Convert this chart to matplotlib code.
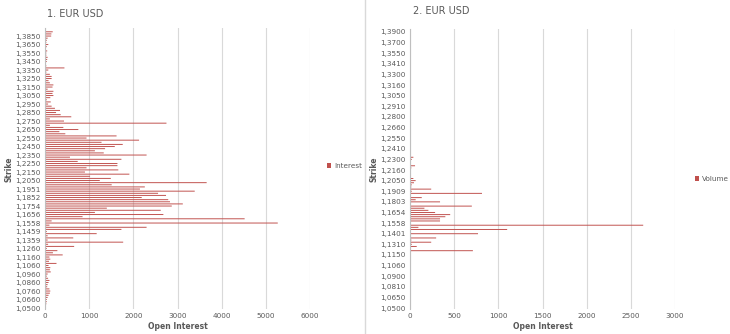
import matplotlib
matplotlib.use("Agg")
import matplotlib.pyplot as plt
from matplotlib.lines import Line2D
import numpy as np

# left chart: open interest per strike, bottom -> top, 4 strikes per label
interest = [
    20, 0, 30, 40,          # 1,0500
    40, 60, 80, 110,        # 1,0660
    120, 100, 50, 60,       # 1,0760
    80, 100, 70, 40,        # 1,0860
    60, 130, 110, 120,      # 1,0960
    80, 260, 90, 120,       # 1,1060
    100, 400, 180, 280,     # 1,1160
    40, 660, 70, 1770,      # 1,1260
    60, 640, 60, 1170,      # 1,1359
    40, 1730, 2300, 100,    # 1,1459
    5270, 150, 4520, 850,   # 1,1558
    2680, 1130, 2620, 1400, # 1,1656
    2870, 3120, 2830, 2790, # 1,1754
    2190, 2740, 2560, 3390, # 1,1852
    2150, 2260, 1510, 3660, # 1,1951
    1240, 1490, 1020, 1910, # 1,2050
    905, 1660, 940, 1640,   # 1,2150
    1640, 740, 1730, 565,   # 1,2250
    2300, 1330, 1130, 1360, # 1,2350
    1580, 1760, 1280, 2130, # 1,2450
    940, 1620, 460, 325,    # 1,2550
    755, 415, 110, 2750,    # 1,2650
    430, 110, 595, 355,     # 1,2750
    250, 340, 225, 150,     # 1,2850
    70, 130, 40, 120,       # 1,2950
    190, 170, 190, 60,      # 1,3050
    170, 190, 110, 80,      # 1,3150
    150, 150, 110, 30,      # 1,3250
    75, 440, 30, 20,        # 1,3350
    40, 50, 60, 30,         # 1,3450
    30, 50, 20, 40,         # 1,3550
    75, 30, 40, 60,         # 1,3650
    140, 145, 175, 0,       # 1,3850
]
interest_labels = ["1,0500", "1,0660", "1,0760", "1,0860", "1,0960", "1,1060",
                   "1,1160", "1,1260", "1,1359", "1,1459", "1,1558", "1,1656",
                   "1,1754", "1,1852", "1,1951", "1,2050", "1,2150", "1,2250",
                   "1,2350", "1,2450", "1,2550", "1,2650", "1,2750", "1,2850",
                   "1,2950", "1,3050", "1,3150", "1,3250", "1,3350", "1,3450",
                   "1,3550", "1,3650", "1,3850"]

# right chart: volume per strike, bottom -> top, 5 strikes per label
volume = [
    0, 0, 0, 0, 0,          # 1,0500
    0, 0, 0, 0, 0,          # 1,0650
    0, 0, 0, 0, 0,          # 1,0810
    0, 0, 0, 8, 0,          # 1,0900
    0, 0, 8, 0, 5,          # 1,1060
    5, 8, 712, 0, 76,       # 1,1150
    20, 240, 15, 296, 0,    # 1,1310
    770, 10, 1100, 95, 2640,  # 1,1401
    0, 340, 340, 400, 455,  # 1,1558
    284, 208, 163, 700, 0,  # 1,1654
    340, 64, 133, 0, 815,   # 1,1803
    20, 240, 15, 20, 45,    # 1,1909
    64, 38, 0, 0, 0,        # 1,2050
    0, 15, 57, 0, 10,       # 1,2160
    20, 38, 0, 0, 0,        # 1,2300
    0, 5, 0, 0, 0,          # 1,2410
    0, 5, 0, 0, 0,          # 1,2550
    0, 8, 0, 0, 0,          # 1,2660
    0, 0, 0, 0, 0,          # 1,2800
    0, 0, 0, 0, 0,          # 1,2910
    0, 0, 0, 0, 0,          # 1,3050
    0, 0, 0, 0, 0,          # 1,3160
    0, 0, 0, 0, 0,          # 1,3300
    0, 0, 0, 0, 0,          # 1,3410
    0, 0, 0, 0, 0,          # 1,3550
    0, 0, 0, 0, 0,          # 1,3700
    0, 0,                   # 1,3900
]
volume_labels = ["1,0500", "1,0650", "1,0810", "1,0900", "1,1060", "1,1150",
                 "1,1310", "1,1401", "1,1558", "1,1654", "1,1803", "1,1909",
                 "1,2050", "1,2160", "1,2300", "1,2410", "1,2550", "1,2660",
                 "1,2800", "1,2910", "1,3050", "1,3160", "1,3300", "1,3410",
                 "1,3550", "1,3700", "1,3900"]

RED = "#C0504D"
TXT = "#595959"
GRID = "#d9d9d9"

fig = plt.figure(figsize=(7.3, 3.34), dpi=100)
W, H = 730, 334


def px_axes(x0, x1, ytop, ybot):
    return fig.add_axes([x0 / W, 1 - ybot / H, (x1 - x0) / W, (ybot - ytop) / H])


def style(ax, values, labels, step, xmax, xstep, name):
    n = len(values)
    y = np.arange(n)
    bars = ax.barh(y, values, height=0.45, color=RED, linewidth=0, label=name)
    for b in bars:
        b.set_snap(False)
    ax.set_ylim(-0.6, n - 0.4)
    ax.set_xlim(0, xmax)
    ax.set_yticks(np.arange(0, len(labels) * step, step))
    ax.set_yticklabels(labels)
    ax.set_xticks(np.arange(0, xmax + 1, xstep))
    ax.tick_params(length=0, labelsize=5.2, colors=TXT, pad=3)
    ax.grid(axis="x", color=GRID, lw=0.8)
    ax.set_axisbelow(True)
    for s in ["top", "right", "bottom"]:
        ax.spines[s].set_visible(False)
    ax.spines["left"].set_color("#bfbfbf")
    ax.spines["left"].set_linewidth(0.8)
    ax.set_xlabel("Open Interest", fontsize=5.5, fontweight="bold", color=TXT, labelpad=2)
    ax.set_ylabel("Strike", fontsize=5.5, fontweight="bold", color=TXT)
    ax.yaxis.set_label_coords(-0.118, 0.5)
    return bars


ax1 = px_axes(45, 310, 28.4, 309.3)
style(ax1, interest, interest_labels, 4, 6000, 1000, "Interest")
ax1.legend(loc="center left", bbox_to_anchor=(1.04, 0.51), frameon=False,
           fontsize=5.2, handlelength=0.6, handleheight=0.6, handletextpad=0.4,
           labelcolor=TXT)

ax2 = px_axes(410, 675, 28.6, 309.3)
style(ax2, volume, volume_labels, 5, 3000, 500, "Volume")
ax2.legend(loc="center left", bbox_to_anchor=(1.05, 0.465), frameon=False,
           fontsize=5.2, handlelength=0.6, handleheight=0.6, handletextpad=0.4,
           labelcolor=TXT)

fig.text(47 / W, 1 - 14 / H, "1. EUR USD", fontsize=7, color=TXT, va="center")
fig.text(413 / W, 1 - 11 / H, "2. EUR USD", fontsize=7, color=TXT, va="center")

fig.add_artist(Line2D([365 / W, 365 / W], [0, 1], color=GRID, lw=1))

fig.savefig("out.png", dpi=100)
